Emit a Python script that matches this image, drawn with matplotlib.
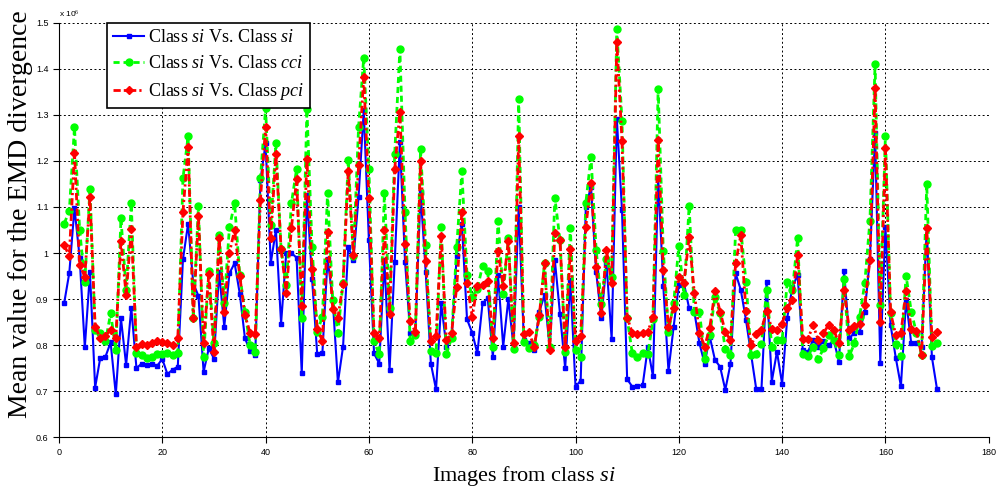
import numpy as np
import matplotlib
matplotlib.use("Agg")
import matplotlib.pyplot as plt

# image index 1..170, values in units of 1e6
images = np.arange(1, 171)

si_vs_si = [0.891, 0.957, 1.098, 0.99, 0.795, 0.958, 0.708, 0.773, 0.775, 0.806,
            0.693, 0.858, 0.757, 0.881, 0.75, 0.76, 0.758, 0.76, 0.755, 0.77,
            0.737, 0.747, 0.753, 0.986, 1.064, 0.934, 0.907, 0.742, 0.793, 0.771,
            0.959, 0.84, 0.956, 0.978, 0.912, 0.815, 0.788, 0.779, 1.158, 1.238,
            0.978, 1.05, 0.847, 1.0, 1.0, 0.99, 0.739, 1.126, 0.943, 0.78,
            0.784, 0.988, 0.898, 0.719, 0.797, 1.014, 0.985, 1.122, 1.31, 1.028,
            0.782, 0.76, 0.985, 0.746, 0.981, 1.242, 0.981, 0.827, 0.827, 1.133,
            0.959, 0.76, 0.704, 0.891, 0.797, 0.815, 0.994, 1.064, 0.856, 0.827,
            0.782, 0.891, 0.902, 0.775, 0.952, 0.797, 0.9, 0.797, 1.1, 0.811,
            0.804, 0.789, 0.873, 0.909, 0.795, 0.985, 0.868, 0.75, 0.941, 0.71,
            0.723, 1.1, 1.144, 0.959, 0.858, 0.978, 0.813, 1.292, 1.093, 0.726,
            0.71, 0.712, 0.713, 0.795, 0.732, 1.166, 0.928, 0.744, 0.84, 0.93,
            0.934, 0.88, 0.873, 0.804, 0.76, 0.818, 0.768, 0.753, 0.703, 0.759,
            0.956, 0.92, 0.855, 0.779, 0.704, 0.704, 0.938, 0.721, 0.786, 0.716,
            0.86, 0.927, 0.952, 0.789, 0.786, 0.811, 0.797, 0.808, 0.8, 0.811,
            0.764, 0.961, 0.815, 0.827, 0.829, 0.873, 0.988, 1.26, 0.762, 1.057,
            0.844, 0.773, 0.711, 0.898, 0.804, 0.804, 0.795, 1.054, 0.774, 0.704]

si_vs_cci = [1.064, 1.091, 1.273, 1.05, 0.938, 1.14, 0.833, 0.826, 0.808, 0.869,
             0.79, 1.075, 0.92, 1.108, 0.782, 0.779, 0.773, 0.775, 0.78, 0.781,
             0.784, 0.779, 0.784, 1.162, 1.253, 0.86, 1.102, 0.775, 0.961, 0.804,
             1.039, 0.892, 1.056, 1.108, 0.952, 0.873, 0.8, 0.786, 1.162, 1.314,
             1.06, 1.238, 1.008, 0.93, 1.108, 1.182, 0.858, 1.313, 1.014, 0.829,
             0.862, 1.131, 0.898, 0.827, 0.936, 1.202, 0.994, 1.273, 1.424, 1.182,
             0.808, 0.78, 1.13, 0.88, 1.216, 1.442, 1.09, 0.808, 0.822, 1.225,
             1.017, 0.788, 0.784, 1.057, 0.781, 0.815, 1.014, 1.177, 0.952, 0.905,
             0.923, 0.972, 0.961, 0.795, 1.07, 0.912, 1.032, 0.792, 1.334, 0.806,
             0.794, 0.8, 0.862, 0.978, 0.797, 1.12, 1.028, 0.786, 1.055, 0.789,
             0.775, 1.109, 1.209, 1.007, 0.89, 0.988, 0.949, 1.486, 1.287, 0.858,
             0.782, 0.775, 0.784, 0.78, 0.856, 1.356, 1.005, 0.829, 0.891, 1.015,
             0.909, 1.102, 0.873, 0.873, 0.771, 0.822, 0.905, 0.869, 0.791, 0.779,
             1.05, 1.051, 0.938, 0.779, 0.781, 0.802, 0.92, 0.797, 0.811, 0.811,
             0.938, 0.92, 1.032, 0.78, 0.777, 0.797, 0.769, 0.793, 0.822, 0.811,
             0.779, 0.943, 0.776, 0.804, 0.862, 0.934, 1.07, 1.41, 0.887, 1.255,
             0.869, 0.802, 0.776, 0.951, 0.873, 0.827, 0.779, 1.15, 0.798, 0.804]

si_vs_pci = [1.017, 0.994, 1.218, 0.974, 0.949, 1.122, 0.84, 0.816, 0.82, 0.834,
             0.815, 1.026, 0.909, 1.052, 0.795, 0.802, 0.8, 0.804, 0.809, 0.806,
             0.804, 0.8, 0.815, 1.088, 1.231, 0.858, 1.081, 0.805, 0.954, 0.786,
             1.032, 0.873, 1.001, 1.05, 0.95, 0.865, 0.827, 0.824, 1.116, 1.274,
             1.032, 1.215, 1.008, 0.914, 1.054, 1.16, 0.885, 1.204, 0.965, 0.836,
             0.809, 1.046, 0.878, 0.86, 0.933, 1.177, 0.996, 1.191, 1.383, 1.119,
             0.826, 0.815, 1.05, 0.868, 1.182, 1.307, 1.019, 0.852, 0.829, 1.2,
             0.983, 0.809, 0.82, 1.037, 0.811, 0.826, 0.927, 1.09, 0.934, 0.862,
             0.929, 0.931, 0.939, 0.815, 1.005, 0.929, 1.026, 0.804, 1.253, 0.824,
             0.829, 0.795, 0.865, 0.978, 0.789, 1.043, 1.028, 0.795, 1.008, 0.808,
             0.82, 1.057, 1.153, 0.97, 0.869, 1.007, 0.934, 1.459, 1.244, 0.86,
             0.827, 0.824, 0.827, 0.829, 0.862, 1.245, 0.963, 0.84, 0.881, 0.949,
             0.936, 1.034, 0.914, 0.827, 0.797, 0.838, 0.917, 0.873, 0.829, 0.811,
             0.978, 1.039, 0.874, 0.8, 0.824, 0.834, 0.874, 0.836, 0.834, 0.847,
             0.881, 0.898, 0.996, 0.813, 0.813, 0.844, 0.811, 0.826, 0.844, 0.833,
             0.804, 0.92, 0.834, 0.841, 0.847, 0.887, 0.985, 1.359, 0.851, 1.227,
             0.871, 0.822, 0.826, 0.918, 0.836, 0.831, 0.779, 1.054, 0.818, 0.829]

ytick_vals = [0.6, 0.7, 0.8, 0.9, 1.0, 1.1, 1.2, 1.3, 1.4, 1.5]
ytick_labels = ['0.6', '0.7', '0.8', '0.9', '1', '1.1', '1.2', '1.3', '1.4', '1.5']

plt.rcParams['mathtext.fontset'] = 'custom'
plt.rcParams['mathtext.rm'] = 'Liberation Serif'
plt.rcParams['mathtext.it'] = 'Liberation Serif:italic'

fig = plt.figure(figsize=(9.98, 4.86), dpi=100)
ax = fig.add_axes([0.0591, 0.1002, 0.9316, 0.8531])

# short MATLAB-like dash patterns
ax.plot(images, si_vs_si, '-', color='#0000ff', lw=1.5, marker='s', ms=3,
        label=r'Class $\mathit{si}$ Vs. Class $\mathit{si}$')
ax.plot(images, si_vs_cci, linestyle=(0, (2.2, 1.4)), color='#00ff00', lw=2,
        marker='o', ms=5, label=r'Class $\mathit{si}$ Vs. Class $\mathit{cci}$')
ax.plot(images, si_vs_pci, linestyle=(0, (2.6, 1.1, 0.8, 1.1)), color='#ff0000',
        lw=2, marker='D', ms=4, label=r'Class $\mathit{si}$ Vs. Class $\mathit{pci}$')

ax.set_xlim(0, 180)
ax.set_ylim(0.6, 1.5)
ax.set_xticks(np.arange(0, 181, 20))
ax.set_yticks(ytick_vals)
ax.set_yticklabels(ytick_labels)
ax.tick_params(labelsize=6.5, direction='out', length=4, width=0.8)
for lab in ax.get_xticklabels() + ax.get_yticklabels():
    lab.set_family('Liberation Sans')

ax.grid(True, color='black', linestyle=(0, (2, 2.5)), lw=0.7)
ax.spines['top'].set_visible(False)
ax.spines['right'].set_visible(False)

ax.set_xlabel(r'Images from class $\mathit{si}$', family='Liberation Serif',
              fontsize=16, labelpad=5)
ax.set_ylabel('Mean value for the EMD divergence', family='Liberation Serif',
              fontsize=20)
ax.yaxis.set_label_coords(-0.041, 0.539)
ax.yaxis.label.set_va('center')
ax.text(0.0, 1.01, r'x 10$^{6}$', transform=ax.transAxes, fontsize=6,
        family='Liberation Sans', va='bottom', ha='left')

leg = ax.legend(loc='upper left', bbox_to_anchor=(0.0516, 1.0), borderaxespad=0,
                prop={'family': 'Liberation Serif', 'size': 13}, fancybox=False,
                framealpha=1, edgecolor='black', handlelength=1.7,
                handletextpad=0.2, borderpad=0.35, labelspacing=0.5)
leg.get_frame().set_linewidth(1.2)

fig.savefig('out.png', dpi=100)
